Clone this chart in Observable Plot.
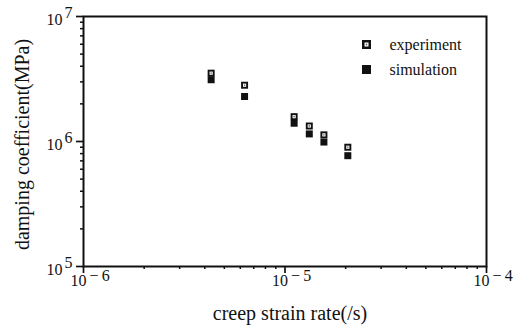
<!DOCTYPE html>
<html>
<head>
<meta charset="utf-8">
<script src="https://cdn.jsdelivr.net/npm/d3@7"></script>
<script src="https://cdn.jsdelivr.net/npm/@observablehq/plot@0.6"></script>
<style>
  html, body { margin: 0; padding: 0; background: #fff; }
  #chart svg { display: block; }
  #chart svg text { font-family: 'Liberation Serif', 'Times New Roman', serif; }
</style>
</head>
<body>
<div id="chart"></div>
<script>
// ---- data ----
const strainRate = [4.3e-6, 6.3e-6, 1.11e-5, 1.32e-5, 1.56e-5, 2.05e-5];
const experiment = [3.52e6, 2.82e6, 1.58e6, 1.33e6, 1.13e6, 9.0e5];
const simulation = [3.12e6, 2.29e6, 1.40e6, 1.15e6, 0.99e6, 7.7e5];
const seriesNames = ["experiment", "simulation"];

const xMajor = [1e-6, 1e-5, 1e-4];
const xExponents = ["-6", "-5", "-4"];
const yMajor = [1e5, 1e6, 1e7];
const yExponents = ["5", "6", "7"];
const xTitle = "creep strain rate(/s)";
const yTitle = "damping coefficient(MPa)";

const minorOf = (majors) => majors.slice(0, -1).flatMap(m => [2,3,4,5,6,7,8,9].map(k => k * m));
const xMinor = minorOf(xMajor);
const yMinor = minorOf(yMajor);

const expData = strainRate.map((x, i) => ({x, y: experiment[i]}));
const simData = strainRate.map((x, i) => ({x, y: simulation[i]}));
const fmtExp = (s) => s.replace("-", "\u2212\u2009");

const side = (s) => s / Math.sqrt(Math.PI); // square side -> r
const serif = "'Liberation Serif', 'Times New Roman', serif";
const ink = "#111";

const chart = Plot.plot({
  width: 516,
  height: 326,
  marginLeft: 83,
  marginRight: 30,
  marginTop: 16,
  marginBottom: 60,
  style: {fontFamily: serif, color: ink, background: "#fff"},
  x: {type: "log", domain: [1e-6, 1e-4], axis: null},
  y: {type: "log", domain: [1e5, 1e7], axis: null},
  marks: [
    Plot.frame({stroke: ink, strokeWidth: 2}),
    // minor & major ticks
    Plot.axisX({ticks: xMinor, tickSize: 3, tickFormat: () => "", label: null, stroke: ink, strokeWidth: 1.5}),
    Plot.axisX({ticks: xMajor, tickSize: 7, tickFormat: () => "", label: null, stroke: ink, strokeWidth: 1.7}),
    Plot.axisY({ticks: yMinor, tickSize: 3, tickFormat: () => "", label: null, stroke: ink, strokeWidth: 1.5}),
    Plot.axisY({ticks: yMajor, tickSize: 7, tickFormat: () => "", label: null, stroke: ink, strokeWidth: 1.7}),
    // x tick labels 10^n
    Plot.text(xMajor, {x: d => d, frameAnchor: "bottom", text: () => "10", textAnchor: "end", lineAnchor: "bottom", dx: 3, dy: 19, fontSize: 16, fontFamily: serif, fill: ink}),
    Plot.text(xMajor, {x: d => d, frameAnchor: "bottom", text: (d, i) => fmtExp(xExponents[i]), textAnchor: "start", lineAnchor: "bottom", dx: 6, dy: 14, fontSize: 16, fontFamily: serif, fill: ink}),
    // y tick labels 10^n
    Plot.text(yMajor, {y: d => d, frameAnchor: "left", text: () => "10", textAnchor: "end", lineAnchor: "bottom", dx: -21, dy: 8, fontSize: 16, fontFamily: serif, fill: ink}),
    Plot.text(yMajor, {y: d => d, frameAnchor: "left", text: (d, i) => yExponents[i], textAnchor: "start", lineAnchor: "bottom", dx: -19, dy: 1, fontSize: 16, fontFamily: serif, fill: ink}),
    // axis titles
    Plot.text([xTitle], {frameAnchor: "bottom", text: d => d, textAnchor: "middle", lineAnchor: "bottom", dx: 5, dy: 53, fontSize: 20, fontFamily: serif, fill: ink}),
    Plot.text([yTitle], {frameAnchor: "left", text: d => d, textAnchor: "middle", lineAnchor: "bottom", rotate: -90, dx: -55, dy: 3, fontSize: 20, fontFamily: serif, fill: ink}),
    // data: simulation (filled squares)
    Plot.dot(simData, {x: "x", y: "y", symbol: "square", r: side(7), fill: ink, stroke: "none"}),
    // data: experiment (square with light centre)
    Plot.dot(expData, {x: "x", y: "y", symbol: "square", r: side(7), fill: ink, stroke: "none"}),
    Plot.dot(expData, {x: "x", y: "y", symbol: "square", r: side(3.2), fill: "#fff", stroke: "none"}),
    Plot.dot(expData, {x: "x", y: "y", symbol: "square", r: side(1.3), fill: "#555", stroke: "none"}),
    // legend
    Plot.dot([seriesNames[0]], {frameAnchor: "top-left", dx: 283, dy: 28, symbol: "square", r: side(9), fill: ink}),
    Plot.dot([seriesNames[0]], {frameAnchor: "top-left", dx: 283, dy: 28, symbol: "square", r: side(4), fill: "#fff"}),
    Plot.dot([seriesNames[0]], {frameAnchor: "top-left", dx: 283, dy: 28, symbol: "square", r: side(1.5), fill: "#555"}),
    Plot.dot([seriesNames[1]], {frameAnchor: "top-left", dx: 283, dy: 53, symbol: "square", r: side(9), fill: ink}),
    Plot.text([seriesNames[0]], {frameAnchor: "top-left", text: d => d, textAnchor: "start", lineAnchor: "bottom", dx: 306, dy: 33, fontSize: 16, fontFamily: serif, fill: ink}),
    Plot.text([seriesNames[1]], {frameAnchor: "top-left", text: d => d, textAnchor: "start", lineAnchor: "bottom", dx: 306, dy: 58, fontSize: 16, fontFamily: serif, fill: ink})
  ]
});
document.getElementById("chart").appendChild(chart);
</script>
</body>
</html>
